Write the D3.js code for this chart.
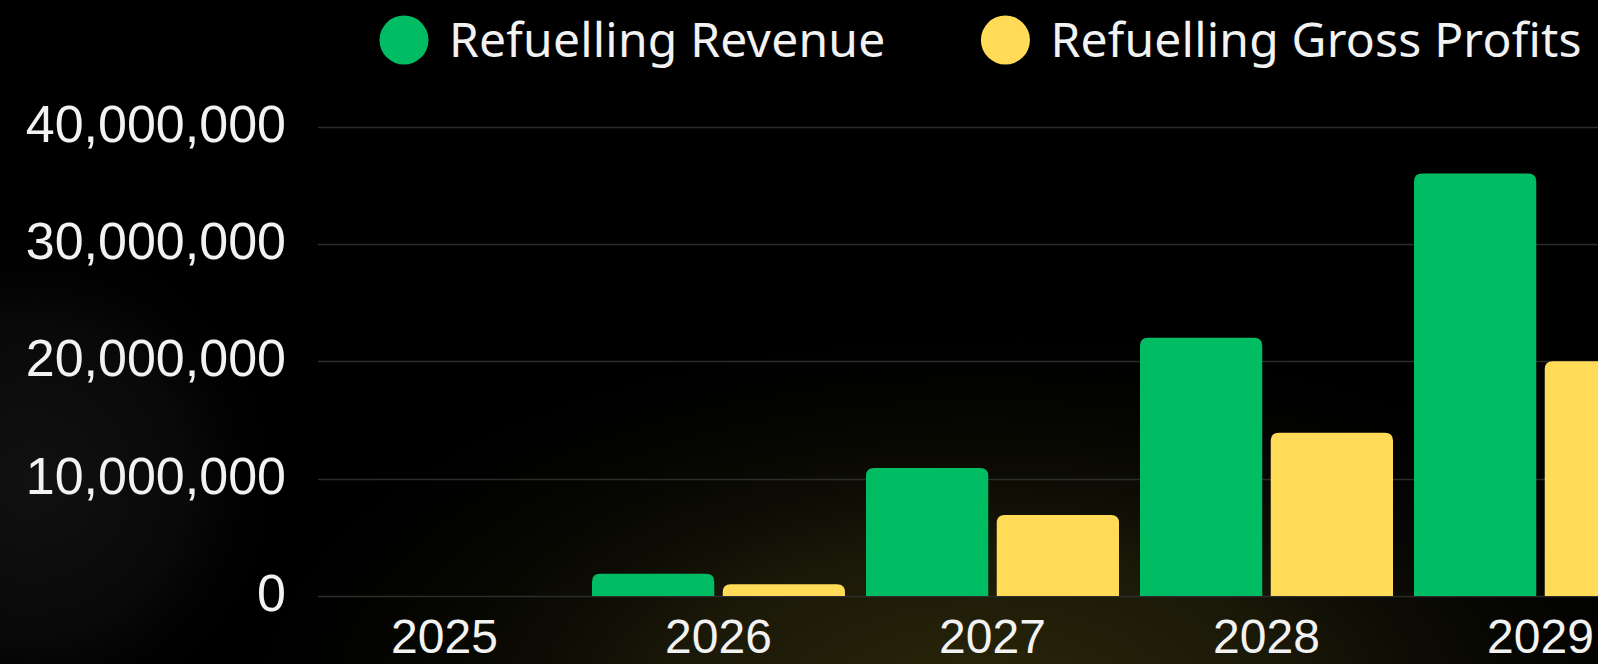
<!DOCTYPE html>
<html>
<head>
<meta charset="utf-8">
<script src="https://cdn.jsdelivr.net/npm/d3@7"></script>
<style>
  html, body { margin: 0; padding: 0; background: #000; overflow: hidden; }
  svg { display: block; }
</style>
</head>
<body>
<div id="chart"></div>
<script>
// Data
const years = ["2025", "2026", "2027", "2028", "2029"];
const seriesNames = ["Refuelling Revenue", "Refuelling Gross Profits"];
const revenue = [0, 1900000, 10900000, 22000000, 36000000];
const grossProfits = [0, 1000000, 6900000, 13900000, 20000000];
const yTicks = [0, 10000000, 20000000, 30000000, 40000000];
const colors = ["#00bd63", "#ffdb58"];

const width = 1598,
      height = 664;

const svg = d3.select("#chart")
  .append("svg")
    .attr("width", width)
    .attr("height", height);

// Background: black, olive glow at the bottom, faint grey on the left
const defs = svg.append("defs");
const glow = defs.append("radialGradient")
    .attr("id", "glow")
    .attr("gradientUnits", "userSpaceOnUse")
    .attr("cx", 980).attr("cy", 700).attr("r", 520)
    .attr("gradientTransform", "translate(980,700) scale(1.5,0.75) translate(-980,-700)");
glow.append("stop").attr("offset", "0%").attr("stop-color", "#2a2709");
glow.append("stop").attr("offset", "40%").attr("stop-color", "#1a1808");
glow.append("stop").attr("offset", "100%").attr("stop-color", "#000").attr("stop-opacity", 0);

const leftShade = defs.append("radialGradient")
    .attr("id", "leftShade")
    .attr("gradientUnits", "userSpaceOnUse")
    .attr("cx", 30).attr("cy", 480).attr("r", 260);
leftShade.append("stop").attr("offset", "0%").attr("stop-color", "#111111");
leftShade.append("stop").attr("offset", "60%").attr("stop-color", "#090909");
leftShade.append("stop").attr("offset", "100%").attr("stop-color", "#000").attr("stop-opacity", 0);

svg.append("rect").attr("width", width).attr("height", height).attr("fill", "#000");
svg.append("rect").attr("width", width).attr("height", height).attr("fill", "url(#leftShade)");
svg.append("rect").attr("width", width).attr("height", height).attr("fill", "url(#glow)");

// Scales
const x0 = d3.scaleBand()
    .domain(years)
    .range([307.5, 1677.5]);

const x1 = d3.scaleBand()
    .domain(seriesNames)
    .range([10.5, x0.bandwidth() - 10.5])
    .paddingInner(0.065);

const y = d3.scaleLinear()
    .domain([0, 40000000])
    .range([596, 126.5]);

// Gridlines
svg.append("g")
  .selectAll("line")
  .data(yTicks)
  .join("line")
    .attr("x1", 318)
    .attr("x2", width)
    .attr("y1", d => Math.round(y(d)) + 0.5)
    .attr("y2", d => Math.round(y(d)) + 0.5)
    .attr("stroke", "#2c2c2c")
    .attr("stroke-width", 1.5);

// Y axis labels
const yAxis = svg.append("g")
    .attr("transform", "translate(286,0)")
    .call(d3.axisLeft(y).tickValues(yTicks).tickFormat(d3.format(",")).tickSize(0).tickPadding(0));
yAxis.select(".domain").remove();
yAxis.selectAll("text")
    .attr("fill", "#f2f2f2")
    .attr("dy", "0.28em")
    .style("font-family", "'Liberation Sans', Arial, sans-serif")
    .style("font-size", "52px");

// X axis labels
const xAxis = svg.append("g")
    .attr("transform", "translate(0,617)")
    .call(d3.axisBottom(x0).tickSize(0).tickPadding(0));
xAxis.select(".domain").remove();
xAxis.selectAll("text")
    .attr("fill", "#f2f2f2")
    .attr("dy", "0.76em")
    .style("font-family", "'Liberation Sans', Arial, sans-serif")
    .style("font-size", "48px");

// Bars with rounded top corners
function topRounded(xp, yp, w, h, r) {
  r = Math.min(r, h, w / 2);
  return `M${xp},${yp + h}V${yp + r}Q${xp},${yp} ${xp + r},${yp}H${xp + w - r}Q${xp + w},${yp} ${xp + w},${yp + r}V${yp + h}Z`;
}

const rows = years.map((yr, i) => ({
  year: yr,
  values: [
    { key: seriesNames[0], value: revenue[i] },
    { key: seriesNames[1], value: grossProfits[i] }
  ]
}));

const color = d3.scaleOrdinal().domain(seriesNames).range(colors);

svg.append("g")
  .selectAll("g")
  .data(rows)
  .join("g")
    .attr("transform", d => `translate(${x0(d.year)},0)`)
  .selectAll("path")
  .data(d => d.values.filter(v => v.value > 0))
  .join("path")
    .attr("d", d => topRounded(x1(d.key), y(d.value), x1.bandwidth(), y(0) - y(d.value), 8))
    .attr("fill", d => color(d.key));

// Legend
const legend = svg.append("g").attr("transform", "translate(404,40)");
let lx = 0;
seriesNames.forEach(function(name) {
  const item = legend.append("g").attr("transform", `translate(${lx},0)`);
  item.append("circle")
    .attr("r", 24.5)
    .attr("fill", color(name));
  const t = item.append("text")
    .attr("x", 45)
    .attr("dy", "0.35em")
    .attr("fill", "#f2f2f2")
    .style("font-family", "'Noto Sans', sans-serif")
    .style("font-size", "48px")
    .style("letter-spacing", "0.2px")
    .text(name);
  lx += 45 + t.node().getComputedTextLength() + 120;
});
</script>
</body>
</html>
